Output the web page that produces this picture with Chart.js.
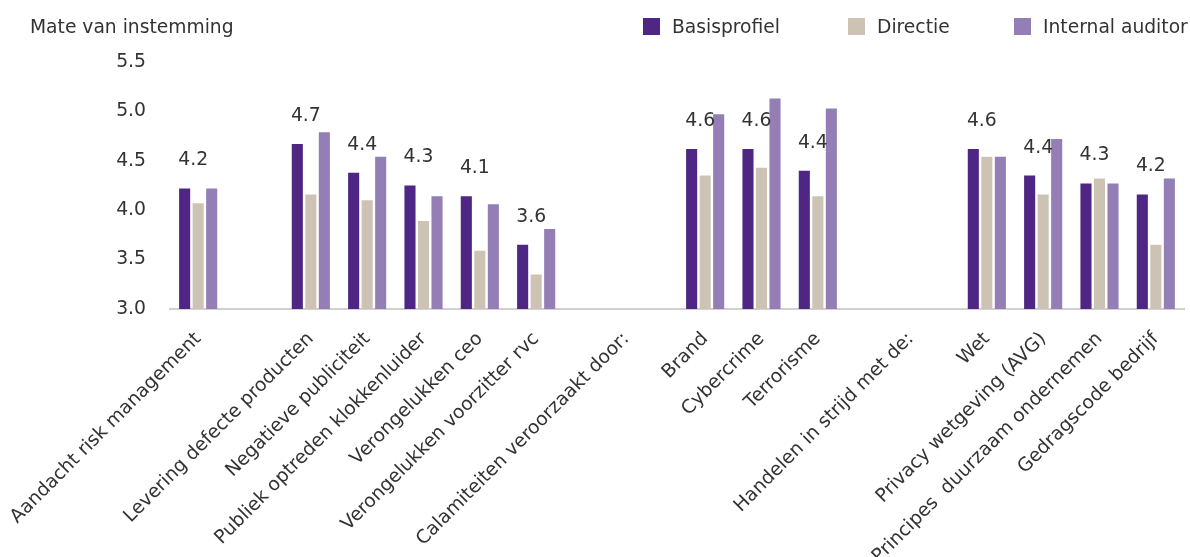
<!DOCTYPE html>
<html>
<head>
<meta charset="utf-8">
<script src="https://cdn.jsdelivr.net/npm/chart.js@4.4.1/dist/chart.umd.min.js"></script>
<style>
  html, body { margin: 0; padding: 0; background: #ffffff; }
  #wrap { position: relative; width: 1190px; height: 557px; }
</style>
</head>
<body>
<div id="wrap"><canvas id="c" width="1190" height="557"></canvas></div>
<script>
// ---- data ----
const categories = [
  'Aandacht risk management', '',
  'Levering defecte producten', 'Negatieve publiciteit', 'Publiek optreden klokkenluider',
  'Verongelukken ceo', 'Verongelukken voorzitter rvc',
  'Calamiteiten veroorzaakt door:', '',
  'Brand', 'Cybercrime', 'Terrorisme',
  'Handelen in strijd met de:', '',
  'Wet', 'Privacy wetgeving (AVG)', 'Principes  duurzaam ondernemen', 'Gedragscode bedrijf'
];
const headerIndex = [7, 12];
const headerShift = [0.6, 0.65];

const seriesNames = ['Basisprofiel', 'Directie', 'Internal auditor'];
const basisprofiel = [4.22, null, 4.67, 4.38, 4.25, 4.14, 3.65, null, null, 4.62, 4.62, 4.40, null, null, 4.62, 4.35, 4.27, 4.16];
const directie     = [4.07, null, 4.16, 4.10, 3.89, 3.59, 3.35, null, null, 4.35, 4.43, 4.14, null, null, 4.54, 4.16, 4.32, 3.65];
const internalAud  = [4.22, null, 4.79, 4.54, 4.14, 4.06, 3.81, null, null, 4.97, 5.13, 5.03, null, null, 4.54, 4.72, 4.27, 4.32];
const valueLabels  = ['4.2', null, '4.7', '4.4', '4.3', '4.1', '3.6', null, null, '4.6', '4.6', '4.4', null, null, '4.6', '4.4', '4.3', '4.2'];
const yTicks = [3.0, 3.5, 4.0, 4.5, 5.0, 5.5];

const colors = ['#4f2683', '#cdc3b5', '#937fb6'];
const FONT = '"DejaVu Sans", sans-serif';
const TXT = '#333333';

const extras = {
  id: 'extras',
  afterDraw(chart) {
    const ctx = chart.ctx;
    const xs = chart.scales.x;
    ctx.save();
    // title
    ctx.fillStyle = TXT;
    ctx.font = '18.7px ' + FONT;
    ctx.textAlign = 'left';
    ctx.textBaseline = 'alphabetic';
    ctx.fillText('Mate van instemming', 30, 33);
    // legend
    const legendX = [643, 848, 1014];
    seriesNames.forEach((n, i) => {
      ctx.fillStyle = colors[i];
      ctx.fillRect(legendX[i], 18, 17, 17);
      ctx.fillStyle = TXT;
      ctx.fillText(n, legendX[i] + 29, 33);
    });
    // value labels above the group
    const meta = chart.getDatasetMeta(0);
    ctx.font = '18.8px ' + FONT;
    ctx.textAlign = 'center';
    ctx.textBaseline = 'middle';
    valueLabels.forEach((t, i) => {
      if (!t) return;
      const bar = meta.data[i];
      ctx.fillText(t, xs.getPixelForValue(i) - 5, bar.y - 28);
    });
    // header labels (placed between slots)
    const items = xs.getLabelItems();
    const ref = items[0];
    const refDx = ref.options.translation[0] - xs.getPixelForValue(0);
    const slot = xs.getPixelForValue(1) - xs.getPixelForValue(0);
    headerIndex.forEach((idx, k) => {
      const x = xs.getPixelForValue(idx) + headerShift[k] * slot + refDx;
      ctx.save();
      ctx.translate(x, ref.options.translation[1]);
      ctx.rotate(ref.options.rotation);
      ctx.font = ref.font.string;
      ctx.fillStyle = TXT;
      ctx.textAlign = ref.options.textAlign;
      ctx.textBaseline = ref.options.textBaseline;
      ctx.fillText(categories[idx], 0, ref.textOffset);
      ctx.restore();
    });
    ctx.restore();
  }
};

new Chart(document.getElementById('c'), {
  type: 'bar',
  data: {
    labels: categories,
    datasets: [
      { label: seriesNames[0], data: basisprofiel, backgroundColor: colors[0] },
      { label: seriesNames[1], data: directie, backgroundColor: colors[1] },
      { label: seriesNames[2], data: internalAud, backgroundColor: colors[2] }
    ]
  },
  options: {
    responsive: false,
    animation: false,
    events: [],
    categoryPercentage: 0.72,
    barPercentage: 0.82,
    layout: { padding: { top: 62, right: 6, left: 0, bottom: 0 } },
    plugins: { legend: { display: false }, tooltip: { enabled: false }, title: { display: false } },
    scales: {
      x: {
        grid: { display: false, drawTicks: false },
        border: { display: true, color: '#d0d0d0', width: 2 },
        ticks: {
          autoSkip: false, maxRotation: 45, minRotation: 45, padding: 19,
          color: TXT, font: { family: FONT, size: 18.8 },
          callback: (v, i) => headerIndex.includes(i) ? '' : categories[i]
        },
        afterFit: (s) => { s.height = 248; s.paddingLeft = 0; s.paddingRight = 0; }
      },
      y: {
        min: 3, max: 5.5,
        grid: { display: false, drawTicks: false },
        border: { display: false },
        afterBuildTicks: (s) => { s.ticks = yTicks.map(v => ({ value: v })); },
        ticks: {
          color: TXT, font: { family: FONT, size: 18.8 }, padding: 24,
          callback: (v) => Number(v).toFixed(1)
        },
        afterFit: (s) => { s.width = 170; s.paddingTop = 0; s.paddingBottom = 0; }
      }
    }
  },
  plugins: [extras]
});
</script>
</body>
</html>
